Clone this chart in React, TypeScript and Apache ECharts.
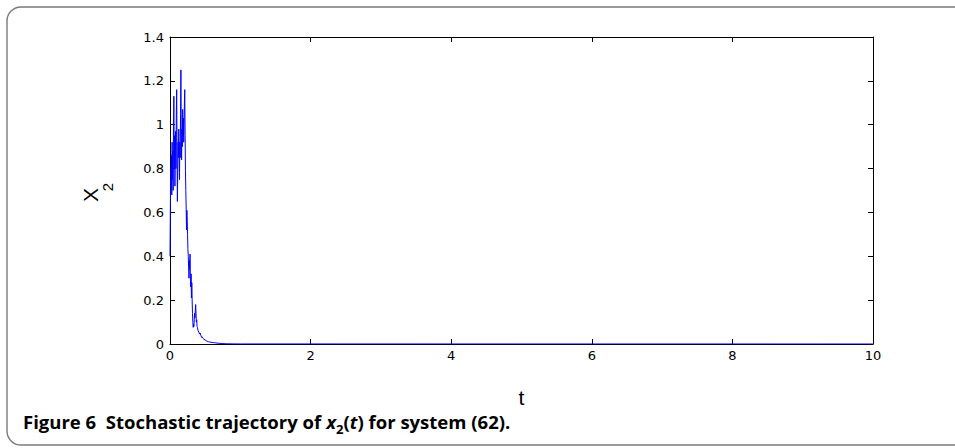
import React, { useEffect, useRef } from "react";
import * as echarts from "echarts";

const xTicks = [0, 2, 4, 6, 8, 10];
const yTicks = [0, 0.2, 0.4, 0.6, 0.8, 1, 1.2, 1.4];

const tValues = [
  0.0, 0.005, 0.01, 0.015, 0.02, 0.025, 0.03, 0.035, 0.04, 0.045,
  0.05, 0.055, 0.06, 0.065, 0.07, 0.075, 0.08, 0.085, 0.09, 0.095,
  0.1, 0.105, 0.11, 0.115, 0.12, 0.125, 0.13, 0.135, 0.14, 0.145,
  0.15, 0.155, 0.16, 0.165, 0.17, 0.175, 0.18, 0.185, 0.19, 0.195,
  0.2, 0.205, 0.21, 0.215, 0.22, 0.225, 0.23, 0.235, 0.24, 0.245,
  0.25, 0.255, 0.26, 0.265, 0.27, 0.275, 0.28, 0.285, 0.29, 0.295,
  0.3, 0.305, 0.31, 0.315, 0.32, 0.325, 0.33, 0.335, 0.34, 0.345,
  0.35, 0.355, 0.36, 0.365, 0.37, 0.375, 0.38, 0.385, 0.39, 0.4,
  0.41, 0.42, 0.43, 0.44, 0.45, 0.46, 0.47, 0.48, 0.5, 0.52,
  0.55, 0.6, 0.65, 0.7, 0.75, 0.8, 0.9, 1.0, 10.0,
];
const x2Values = [
  0.4, 0.62, 0.8, 0.7, 0.86, 0.68, 0.92, 0.75, 0.88, 0.7,
  1.0, 1.13, 0.8, 0.95, 0.72, 0.85, 0.97, 0.8, 1.05, 1.16,
  0.9, 0.65, 0.78, 0.92, 0.85, 0.98, 0.88, 0.75, 0.92, 0.85,
  1.05, 1.25, 0.95, 0.84, 0.98, 0.9, 1.07, 0.95, 1.03, 0.92,
  1.0, 1.1, 1.16, 0.95, 0.79, 0.7, 0.62, 0.52, 0.61, 0.56,
  0.5, 0.43, 0.4, 0.35, 0.3, 0.38, 0.34, 0.41, 0.3, 0.26,
  0.32, 0.21, 0.28, 0.2, 0.14, 0.1, 0.076, 0.09, 0.08, 0.11,
  0.14, 0.12, 0.15, 0.18, 0.14, 0.1, 0.11, 0.08, 0.076, 0.06,
  0.055, 0.045, 0.05, 0.038, 0.03, 0.032, 0.025, 0.022, 0.018, 0.014,
  0.01, 0.007, 0.005, 0.003, 0.002, 0.001, 0.0005, 0.0002, 0.0,
];

const tickFont = "DejaVu Sans, Liberation Sans, sans-serif";
const captionFont = "Open Sans, Noto Sans, sans-serif";

export default function App() {
  const ref = useRef<HTMLDivElement>(null);
  useEffect(() => {
    if (!ref.current) return;
    const chart = echarts.init(ref.current, undefined, { renderer: "svg" });
    const data = tValues.map((t, i) => [t, x2Values[i]]);
    const axisCommon = {
      type: "value" as const,
      axisLine: { show: true, onZero: false, lineStyle: { color: "#000", width: 1 } },
      axisTick: { show: true, inside: true, length: 5, lineStyle: { color: "#000" } },
      splitLine: { show: false },
    };
    chart.setOption({
      animation: false,
      backgroundColor: "#fff",
      grid: { left: 170, right: 82, top: 37, bottom: 104, containLabel: false },
      xAxis: [
        {
          ...axisCommon,
          position: "bottom",
          min: xTicks[0],
          max: xTicks[xTicks.length - 1],
          interval: 2,
          axisLabel: { color: "#000", fontSize: 13, fontFamily: tickFont, margin: 5 },
          name: "t",
          nameLocation: "middle",
          nameGap: 43,
          nameTextStyle: { color: "#000", fontSize: 21, fontFamily: "Liberation Sans, sans-serif" },
        },
        {
          ...axisCommon,
          position: "top",
          min: xTicks[0],
          max: xTicks[xTicks.length - 1],
          interval: 2,
          axisLabel: { show: false },
        },
      ],
      yAxis: [
        {
          ...axisCommon,
          position: "left",
          min: yTicks[0],
          max: yTicks[yTicks.length - 1],
          interval: 0.2,
          axisLabel: { color: "#000", fontSize: 13, fontFamily: tickFont, margin: 6 },
        },
        {
          ...axisCommon,
          position: "right",
          min: yTicks[0],
          max: yTicks[yTicks.length - 1],
          interval: 0.2,
          axisLabel: { show: false },
        },
      ],
      series: [
        {
          type: "line",
          xAxisIndex: 0,
          yAxisIndex: 0,
          data,
          showSymbol: false,
          symbol: "none",
          lineStyle: { color: "#0000ff", width: 1 },
          z: 1,
        },
      ],
      graphic: [
        {
          type: "rect",
          shape: { x: 7, y: 7, width: 1000, height: 438, r: 14 },
          style: { fill: "none", stroke: "#7a7a7a", lineWidth: 1.4 },
          silent: true,
          z: -10,
        },
        {
          type: "text",
          x: 90,
          y: 195,
          rotation: Math.PI / 2,
          style: {
            text: "X",
            fill: "#000",
            font: "21px Liberation Sans, sans-serif",
            textAlign: "center",
            textVerticalAlign: "middle",
          },
        },
        {
          type: "text",
          x: 107,
          y: 187,
          rotation: Math.PI / 2,
          style: {
            text: "2",
            fill: "#000",
            font: "15px Liberation Sans, sans-serif",
            textAlign: "center",
            textVerticalAlign: "middle",
          },
        },
        {
          type: "text",
          x: 23,
          y: 414,
          scaleX: 1.09,
          style: {
            text: "{b|Figure 6  Stochastic trajectory of }{i|x}{s|2}{b|(}{it|t}{b|) for system (62).}",
            fill: "#000",
            rich: {
              b: { fontFamily: captionFont, fontWeight: "bold", fontSize: 17, verticalAlign: "top", lineHeight: 22 },
              i: { fontFamily: captionFont, fontWeight: "bold", fontStyle: "italic", fontSize: 17, verticalAlign: "top", lineHeight: 22 },
              it: { fontFamily: captionFont, fontWeight: "bold", fontStyle: "italic", fontSize: 17, verticalAlign: "top", lineHeight: 22 },
              s: { fontFamily: captionFont, fontWeight: "bold", fontSize: 12, verticalAlign: "top", padding: [10, 0, 0, 0], lineHeight: 14 },
            },
          },
        },
      ],
    });
    return () => chart.dispose();
  }, []);
  return (
    <div
      ref={ref}
      style={{ position: "fixed", left: 0, top: 0, width: 955, height: 448 }}
    />
  );
}
